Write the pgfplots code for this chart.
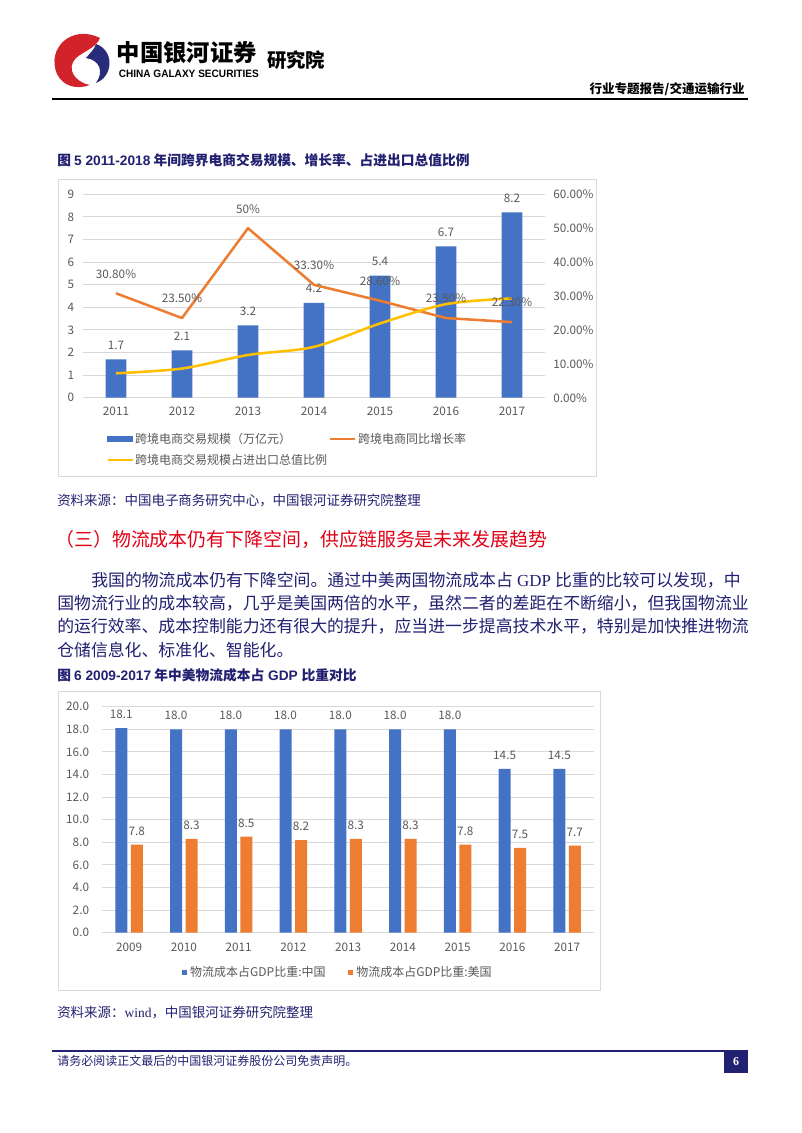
\documentclass[border=0pt]{standalone}
\usepackage{fontspec}
\usepackage{graphicx}
\usepackage{pgfplots}
\pgfplotsset{compat=1.18}
\setmainfont{Noto Sans CJK SC}
\newfontfamily\arial{Liberation Sans}
\newfontfamily\serifl{Liberation Serif}

\definecolor{navy}{RGB}{34,32,112}
\definecolor{xlblue}{RGB}{68,114,196}
\definecolor{xlorange}{RGB}{237,125,49}
\definecolor{xlyellow}{RGB}{255,192,0}
\definecolor{xlgray}{RGB}{89,89,89}
\definecolor{gridgray}{RGB}{217,217,217}
\definecolor{headred}{RGB}{226,0,22}
\definecolor{logored}{RGB}{210,35,42}
\definecolor{logoblue}{RGB}{40,44,122}

\pgfplotsset{
  xlchart/.style={
    scale only axis, anchor=south west, clip=false,
    axis line style={draw=none}, tick style={draw=none},
    ticklabel style={font=\fontsize{8.8}{10}\selectfont, text=xlgray, inner sep=0pt},
    /pgf/number format/assume math mode=true,
  },
  xllabels/.style={
    every node near coord/.append style={font=\fontsize{8.8}{10}\selectfont,
      text=xlgray, inner sep=0pt, yshift=#1},
  },
}

\begin{document}
\begin{tikzpicture}
\begin{scope}[x=0.75pt,y=-0.75pt]
\useasboundingbox (0,0) rectangle (802,1133);
\fill[white] (0,0) rectangle (802,1133);
\coordinate (c1) at (83,397.7);
\coordinate (c2) at (101.7,932.7);

% header
\fill[logored] (100,38) .. controls (72,24) and (46,48) .. (57,74)
  .. controls (63,86) and (76,90) .. (90,85)
  .. controls (74,82) and (66,68) .. (76,58)
  .. controls (84,51) and (96,48) .. (100,38) -- cycle;
\fill[logoblue] (96,44) .. controls (114,50) and (114,76) .. (96,83)
  .. controls (104,72) and (100,60) .. (86,58)
  .. controls (90,53) and (94,50) .. (96,44) -- cycle;
\node[anchor=west, inner sep=0pt, font=\bfseries\fontsize{17.5}{20}\selectfont] at (116.5,53) {中国银河证券};
\node[anchor=west, inner sep=0pt] at (118.5,73.5) {\resizebox{105pt}{5.6pt}{\arial\bfseries CHINA GALAXY SECURITIES}};
\node[anchor=west, inner sep=0pt, font=\bfseries\fontsize{14.5}{17}\selectfont] at (267,60) {研究院};
\node[anchor=east, inner sep=0pt, font=\bfseries\fontsize{9.4}{11}\selectfont] at (745,89) {行业专题报告/交通运输行业};
\draw[line width=1.5pt] (52,98.5) -- (748,98.5);

% figure 5
\node[anchor=west, inner sep=0pt, text=navy, font=\bfseries\fontsize{10.3}{12}\selectfont] at (57,160)
  {图\ {\arial 5 2011-2018} 年间跨界电商交易规模、增长率、占进出口总值比例};
\draw[gridgray, line width=0.75pt] (58,179.3) rectangle (596.7,476);
\node[anchor=west, inner sep=0pt, text=navy, font=\fontsize{10.1}{12}\selectfont] at (57,501)
  {资料来源：中国电子商务研究中心，中国银河证券研究院整理};

% section
\node[anchor=west, inner sep=0pt, text=headred, font=\fontsize{14.2}{17}\selectfont] at (55,539.5)
  {（三）物流成本仍有下降空间，供应链服务是未来发展趋势};
\begin{scope}[every node/.style={anchor=west, inner sep=0pt, text=navy, font=\fontsize{12.65}{15}\selectfont}]
\node at (91,580) {我国的物流成本仍有下降空间。通过中美两国物流成本占{\serifl\ GDP\ }比重的比较可以发现，中};
\node at (57,603.3) {国物流行业的成本较高，几乎是美国两倍的水平，虽然二者的差距在不断缩小，但我国物流业};
\node at (57,626.6) {的运行效率、成本控制能力还有很大的提升，应当进一步提高技术水平，特别是加快推进物流};
\node at (57,650) {仓储信息化、标准化、智能化。};
\end{scope}

% figure 6
\node[anchor=west, inner sep=0pt, text=navy, font=\bfseries\fontsize{10.3}{12}\selectfont] at (57,675)
  {图\ {\arial 6 2009-2017} 年中美物流成本占{\arial\ GDP\ }比重对比};
\draw[gridgray, line width=0.75pt] (58,691.7) rectangle (600,990.5);
\node[anchor=west, inner sep=0pt, text=navy, font=\fontsize{10.1}{12}\selectfont] at (57,1012.7)
  {资料来源：{\serifl wind}，中国银河证券研究院整理};

% footer
\draw[navy, line width=1.5pt] (52,1051) -- (748,1051);
\fill[navy] (724,1050) rectangle (748,1073);
\node[text=white, inner sep=0pt, font=\serifl\bfseries\fontsize{9}{10}\selectfont] at (736,1062) {6};
\node[anchor=west, inner sep=0pt, text=navy, font=\fontsize{9}{11}\selectfont] at (57,1061)
  {请务必阅读正文最后的中国银河证券股份公司免责声明。};
\end{scope}

% chart 1: bars
\begin{axis}[xlchart, at={(c1)}, width=346.5pt, height=152.55pt,
  xmin=-0.5, xmax=6.5, ymin=0, ymax=9,
  ymajorgrids, grid style={gridgray, line width=0.75pt},
  ytick={0,1,2,3,4,5,6,7,8,9}, xtick={0,1,2,3,4,5,6},
  xticklabels={2011,2012,2013,2014,2015,2016,2017},
  xticklabel style={yshift=-2.5pt},
  yticklabel style={anchor=east, xshift=-6.5pt},
  ybar, bar width=15.4pt,
  nodes near coords, xllabels=7.3pt]
\addplot[fill=xlblue, draw=none] coordinates {
  (0,1.7) (1,2.1) (2,3.2) (3,4.2) (4,5.4) (5,6.7) (6,8.2)};
\end{axis}

% chart 1: lines
\begin{axis}[xlchart, at={(c1)}, width=346.5pt, height=152.55pt,
  xmin=-0.5, xmax=6.5, ymin=0, ymax=60,
  xtick=\empty, ytick={0,10,20,30,40,50,60},
  ytick pos=right, yticklabel pos=right,
  yticklabel={\pgfmathprintnumber[fixed,fixed zerofill,precision=2]{\tick}\%},
  yticklabel style={anchor=west, xshift=6pt},
  legend columns=2, legend cell align=left,
  legend style={at={(0.0498,-0.172)}, anchor=north west, draw=none, fill=none,
    font=\fontsize{9}{11}\selectfont, text=xlgray, inner sep=0pt,
    nodes={inner sep=0pt}, row sep=6.5pt,
    /tikz/every odd column/.append style={column sep=1pt},
    /tikz/every even column/.append style={column sep=1.5pt}}]
\addlegendimage{legend image code/.code={\fill[xlblue] (0pt,-1.9pt) rectangle (18.75pt,1.9pt);}}
\addlegendentry{跨境电商交易规模（万亿元）}
\addplot[xlorange, line width=1.9pt, line join=round,
  nodes near coords, point meta=explicit symbolic, xllabels=10.3pt,
  legend image code/.code={\draw (0pt,0pt) -- (18.75pt,0pt);}] coordinates {
  (0,30.8) [30.80\%] (1,23.5) [23.50\%] (2,50) [50\%] (3,33.3) [33.30\%]
  (4,28.6) [28.60\%] (5,23.5) [23.50\%] (6,22.3) [22.30\%]};
\addlegendentry{跨境电商同比增长率}
\addplot[xlyellow, line width=1.9pt, smooth, tension=0.5,
  legend image code/.code={\draw (0pt,0pt) -- (18.75pt,0pt);}] coordinates {
  (0,7.2) (1,8.6) (2,12.6) (3,15.0) (4,21.9) (5,27.6) (6,29.3)};
\addlegendentry{跨境电商交易规模占进出口总值比例}
\end{axis}

% chart 2
\begin{axis}[xlchart, at={(c2)}, width=369.6pt, height=169.5pt,
  xmin=-0.5, xmax=8.5, ymin=0, ymax=20,
  ymajorgrids, grid style={gridgray, line width=0.75pt},
  ytick={0,2,4,6,8,10,12,14,16,18,20}, xtick={0,1,2,3,4,5,6,7,8},
  xticklabels={2009,2010,2011,2012,2013,2014,2015,2016,2017},
  xticklabel style={yshift=-3pt},
  yticklabel style={anchor=east, xshift=-9.3pt,
    /pgf/number format/.cd, fixed, fixed zerofill, precision=1, /tikz/.cd},
  ybar=2.6pt, bar width=9pt,
  nodes near coords={\pgfmathprintnumber[fixed,fixed zerofill,precision=1]{\pgfplotspointmeta}},
  xllabels=6.8pt,
  legend columns=2,
  legend style={at={(0.163,-0.175)}, anchor=west, draw=none, fill=none,
    font=\fontsize{9}{11}\selectfont, text=xlgray, inner sep=0pt,
    nodes={inner sep=0pt},
    /tikz/every odd column/.append style={column sep=2.2pt},
    /tikz/every even column/.append style={column sep=17pt}}]
\addplot[fill=xlblue, draw=none,
  legend image code/.code={\fill (0pt,-1.9pt) rectangle (3.75pt,1.9pt);}] coordinates {
  (0,18.1) (1,18.0) (2,18.0) (3,18.0) (4,18.0) (5,18.0) (6,18.0) (7,14.5) (8,14.5)};
\addlegendentry{物流成本占GDP比重:中国}
\addplot[fill=xlorange, draw=none,
  legend image code/.code={\fill (0pt,-1.9pt) rectangle (3.75pt,1.9pt);}] coordinates {
  (0,7.8) (1,8.3) (2,8.5) (3,8.2) (4,8.3) (5,8.3) (6,7.8) (7,7.5) (8,7.7)};
\addlegendentry{物流成本占GDP比重:美国}
\end{axis}
\end{tikzpicture}
\end{document}
